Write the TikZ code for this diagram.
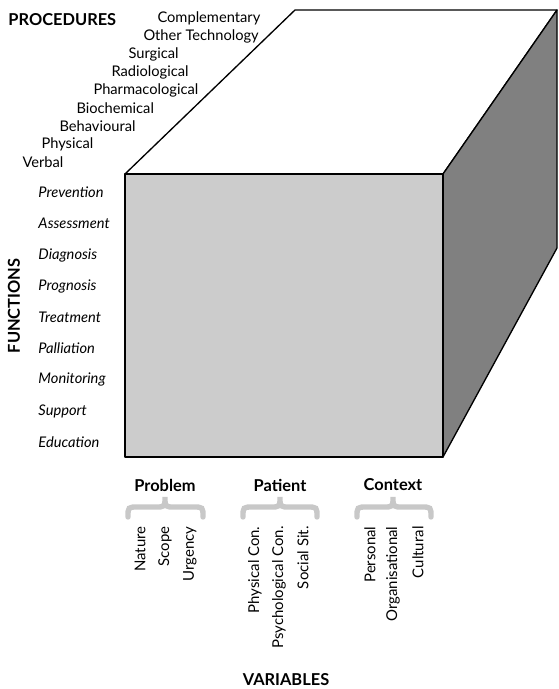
\documentclass[tikz,border=0pt]{standalone}
\usepackage{fontspec}
\setmainfont{Lato}
\tikzset{every picture/.style={line width=0.75pt}}
\tikzset{
  procitem/.style={anchor=west,inner sep=0.75pt,font=\fontsize{11}{13}\selectfont},
  funcitem/.style={anchor=west,inner sep=0.75pt,font=\fontsize{11}{13}\selectfont\itshape},
  varhead/.style={inner sep=0.75pt,font=\fontsize{12.3}{14}\selectfont\bfseries},
  varitem/.style={anchor=east,rotate=90,inner sep=0.75pt,font=\fontsize{11.2}{13}\selectfont},
  axistitle/.style={inner sep=0.75pt,font=\fontsize{12.3}{14}\selectfont\bfseries},
  facebox/.style={draw=black,line width=1pt,line join=round},
  bracestroke/.style={draw={rgb,255:red,200;green,200;blue,200},line width=4pt,line cap=round}
}
\newcommand{\graybrace}[3]{% left x, centre x, right x
  \draw[bracestroke] (#1,517) .. controls (#1,507) .. (#1+10,507) -- (#2-10,507) .. controls (#2,507) .. (#2,497) .. controls (#2,507) .. (#2+10,507) -- (#3-10,507) .. controls (#3,507) .. (#3,517) ;}

\begin{document}
\begin{tikzpicture}[x=0.75pt,y=0.75pt,yscale=-1,xscale=1]
\useasboundingbox (0,0) rectangle (558,689);

% corners of the cube
\coordinate (ftl) at (125,174);
\coordinate (ftr) at (443,174);
\coordinate (fbr) at (443,457);
\coordinate (fbl) at (125,457);
\coordinate (btl) at (295,10);
\coordinate (btr) at (557,10);
\coordinate (bbr) at (557,248);

%Shape: Top face
\draw [facebox,fill=white] (ftl) -- (btl) -- (btr) -- (ftr) -- cycle ;
%Shape: Right face
\draw [facebox,fill={rgb,255:red,128;green,128;blue,128}] (ftr) -- (btr) -- (bbr) -- (fbr) -- cycle ;
%Shape: Front face
\draw [facebox,fill={rgb,255:red,204;green,204;blue,204}] (ftl) -- (ftr) -- (fbr) -- (fbl) -- cycle ;

% Text Node
\node [axistitle,anchor=west] (procs) at (7,20) {PROCEDURES};
% Text Node
\node [procitem] (complementary) at (156,18) {Complementary};
\node [procitem] (othertech) at (142,36) {Other Technology};
\node [procitem] (surgical) at (127,54) {Surgical};
\node [procitem] (radiological) at (110,72) {Radiological};
\node [procitem] (pharmacological) at (92,90) {Pharmacological};
\node [procitem] (biochemical) at (75,108) {Biochemical};
\node [procitem] (behavioural) at (58,126) {Behavioural};
\node [procitem] (physical) at (40,144) {Physical};
\node [procitem] (verbal) at (21,162) {Verbal};

% Text Node
\node [axistitle,rotate=90] (funcs) at (14,306) {FUNCTIONS};
% Text Node
\node [funcitem] (prevention) at (37,192) {Prevention};
\node [funcitem] (assessment) at (37,223) {Assessment};
\node [funcitem] (diagnosis) at (37,255) {Diagnosis};
\node [funcitem] (prognosis) at (37,286) {Prognosis};
\node [funcitem] (treatment) at (37,317) {Treatment};
\node [funcitem] (palliation) at (37,348) {Palliation};
\node [funcitem] (monitoring) at (37,379) {Monitoring};
\node [funcitem] (support) at (37,411) {Support};
\node [funcitem] (education) at (37,442) {Education};

% Text Node
\node [varhead] (problem) at (165,485) {Problem};
\node [varhead] (patient) at (280,485) {Patient};
\node [varhead] (context) at (393,485) {Context};

%Braces
\graybrace{128}{165}{203}
\graybrace{243}{280}{317}
\graybrace{357}{393}{431}

% Text Node
\node [varitem] (nature) at (140,525) {Nature};
\node [varitem] (scope) at (165,525) {Scope};
\node [varitem] (urgency) at (190,525) {Urgency};
\node [varitem] (physcon) at (255,525) {Physical Con.};
\node [varitem] (psychcon) at (279,525) {Psychological Con.};
\node [varitem] (socialsit) at (303,525) {Social Sit.};
\node [varitem] (personal) at (370,525) {Personal};
\node [varitem] (organisational) at (393,525) {Organisational};
\node [varitem] (cultural) at (418,525) {Cultural};

% Text Node
\node [axistitle] (vars) at (286,680) {VARIABLES};

\end{tikzpicture}
\end{document}
